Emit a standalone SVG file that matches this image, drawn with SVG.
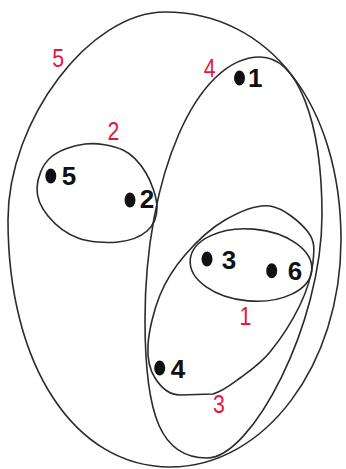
<svg xmlns="http://www.w3.org/2000/svg" width="346" height="469" viewBox="0 0 346 469">
<style>
.edge{fill:none;stroke:#2b2b2b;stroke-width:1.6}
.dot{fill:#111}
.vl{font-family:"Liberation Sans",Arial,sans-serif;font-size:26px;font-weight:bold;fill:#111;text-anchor:middle}
.el{font-family:"Liberation Sans",Arial,sans-serif;font-size:26px;fill:#e3173e;text-anchor:middle}
</style>
<rect width="346" height="469" fill="#fff"/>
<g id="hyperedges">
<path id="e5" class="edge" d="M165,12 C269,12 341,105 341,240 C341,365 265,467 170,467 C75,467 8,366 8,220 C8,120 90,12 165,12 Z"/>
<path id="e4" class="edge" d="M260,57 C297,57 322,120 322,215 C322,324 252,458 207,458 C161.5,458 145,416.6 145,320 C145,175.3 196.7,57 260,57 Z"/>
<path id="e2" class="edge" d="M37,188 C37.3,178.3 42,165.3 50,158 C58,150.7 72.8,145.3 85,144 C97.2,142.7 112.8,145.2 123,150 C133.2,154.8 140.3,163.5 146,173 C151.7,182.5 156.8,197.3 157,207 C157.2,216.7 153.5,225.2 147,231 C140.5,236.8 129.5,240.8 118,242 C106.5,243.2 89.7,242.3 78,238 C66.3,233.7 54.8,224.3 48,216 C41.2,207.7 36.7,197.7 37,188 Z"/>
<path id="e3" class="edge" d="M270,206 C283.8,208 300.8,222.7 308,232 C315.2,241.3 314.3,249.8 313,262 C311.7,274.2 307.2,290 300,305 C292.8,320 280,339.8 270,352 C260,364.2 249.5,371 240,378 C230.5,385 223,391.2 213,394 L180,395 C168,395 160.3,386.3 155,378 C149.7,369.7 147.2,358.8 148,345 C148.8,331.2 153.8,310 160,295 C166.2,280 174.2,267.5 185,255 C195.8,242.5 210.8,228.2 225,220 C239.2,211.8 256.2,204 270,206 Z"/>
<ellipse id="e1" class="edge" cx="251" cy="265" rx="61" ry="36" transform="rotate(5 251 265)"/>
</g>
<g id="edge-labels">
<text class="el" transform="translate(58.3,66.7) scale(0.82,1)">5</text>
<text class="el" transform="translate(209.7,77.3) scale(0.82,1)">4</text>
<text class="el" transform="translate(113.5,140) scale(0.82,1)">2</text>
<text class="el" transform="translate(245.5,325) scale(0.82,1)">1</text>
<text class="el" transform="translate(219,413) scale(0.82,1)">3</text>
</g>
<g id="v1"><ellipse class="dot" cx="239.5" cy="78" rx="5.5" ry="7.5"/><text class="vl" x="255.3" y="87">1</text></g>
<g id="v5"><ellipse class="dot" cx="50.8" cy="176" rx="5.5" ry="7.5"/><text class="vl" x="69" y="185">5</text></g>
<g id="v2"><ellipse class="dot" cx="130" cy="200" rx="5.5" ry="7.5"/><text class="vl" x="147" y="208">2</text></g>
<g id="v3"><ellipse class="dot" cx="207" cy="259" rx="5.5" ry="7.5"/><text class="vl" x="229" y="269">3</text></g>
<g id="v6"><ellipse class="dot" cx="271.7" cy="270.7" rx="5.5" ry="7.5"/><text class="vl" x="295" y="280">6</text></g>
<g id="v4"><ellipse class="dot" cx="159.7" cy="368" rx="5.5" ry="7.5"/><text class="vl" x="178" y="378">4</text></g>
</svg>
